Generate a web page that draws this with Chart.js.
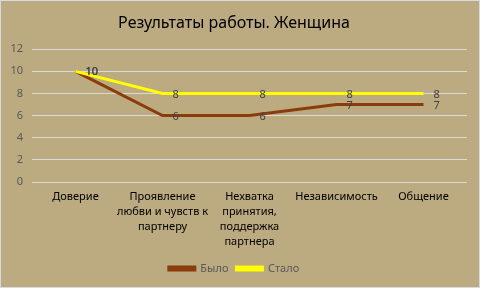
<!DOCTYPE html>
<html><head><meta charset="utf-8">
<script src="https://cdn.jsdelivr.net/npm/chart.js@4/dist/chart.umd.min.js"></script>
<style>
html,body{margin:0;padding:0;background:#fff;}
#wrap{position:relative;width:478px;height:286px;border:1px solid #d9d9d9;background:#bcaa80;}
canvas{display:block;}
</style></head>
<body><div id="wrap"><canvas id="c" width="478" height="286"></canvas></div>
<script>
const categories = [
  ['Доверие'],
  ['Проявление', 'любви и чувств к', 'партнеру'],
  ['Нехватка', 'принятия,', 'поддержка', 'партнера'],
  ['Независимость'],
  ['Общение']
];
const seriesNames = ['Было', 'Стало'];
const byloValues = [10, 6, 6, 7, 7];
const staloValues = [10, 8, 8, 8, 8];
const yTicks = [0, 2, 4, 6, 8, 10, 12];
const titleText = 'Результаты работы. Женщина';

const FONT = "'Noto Sans', 'DejaVu Sans', sans-serif";

const dataLabels = {
  id: 'dataLabels',
  afterDatasetsDraw(chart) {
    const ctx = chart.ctx;
    ctx.save();
    ctx.font = '11px ' + FONT;
    ctx.fillStyle = '#404040';
    ctx.textAlign = 'left';
    ctx.textBaseline = 'middle';
    chart.data.datasets.forEach((ds, i) => {
      const meta = chart.getDatasetMeta(i);
      meta.data.forEach((pt, j) => {
        ctx.fillText(String(ds.data[j]), pt.x + 10, pt.y + 1);
      });
    });
    ctx.restore();
  }
};

new Chart(document.getElementById('c'), {
  type: 'line',
  data: {
    labels: categories,
    datasets: [
      { label: seriesNames[0], data: byloValues, borderColor: '#8b3c0c', backgroundColor: '#8b3c0c',
        borderWidth: 3, pointRadius: 0, tension: 0, order: 1 },
      { label: seriesNames[1], data: staloValues, borderColor: '#ffff00', backgroundColor: '#ffff00',
        borderWidth: 3, pointRadius: 0, tension: 0, order: 0 }
    ]
  },
  options: {
    responsive: false,
    animation: false,
    layout: { padding: { left: 0, right: 12, top: 0, bottom: 3 } },
    plugins: {
      title: { display: true, text: titleText, color: '#000', font: { family: FONT, size: 16, weight: 'normal' },
        padding: { top: 13, bottom: 16 } },
      legend: { position: 'bottom', labels: { font: { family: FONT, size: 11 }, color: '#595959',
        boxWidth: 26, boxHeight: 3, padding: 8,
        sort: (a, b) => a.datasetIndex - b.datasetIndex },
        reverse: false },
      tooltip: { enabled: false }
    },
    scales: {
      x: {
        offset: true,
        grid: { display: false },
        border: { display: false },
        afterFit: (s) => { s.height = 73; },
        ticks: { color: '#000', font: { family: FONT, size: 11, lineHeight: 1.36 }, maxRotation: 0, autoSkip: false, padding: -1 }
      },
      y: {
        min: 0, max: 12,
        afterBuildTicks: (s) => { s.ticks = yTicks.map(v => ({ value: v })); },
        afterFit: (s) => { s.width = 31; },
        grid: { color: '#d9d9d9', lineWidth: 1, drawTicks: false },
        border: { display: false },
        ticks: { color: '#595959', font: { family: FONT, size: 11 }, padding: 9 }
      }
    }
  },
  plugins: [dataLabels]
});
</script>
</body></html>
